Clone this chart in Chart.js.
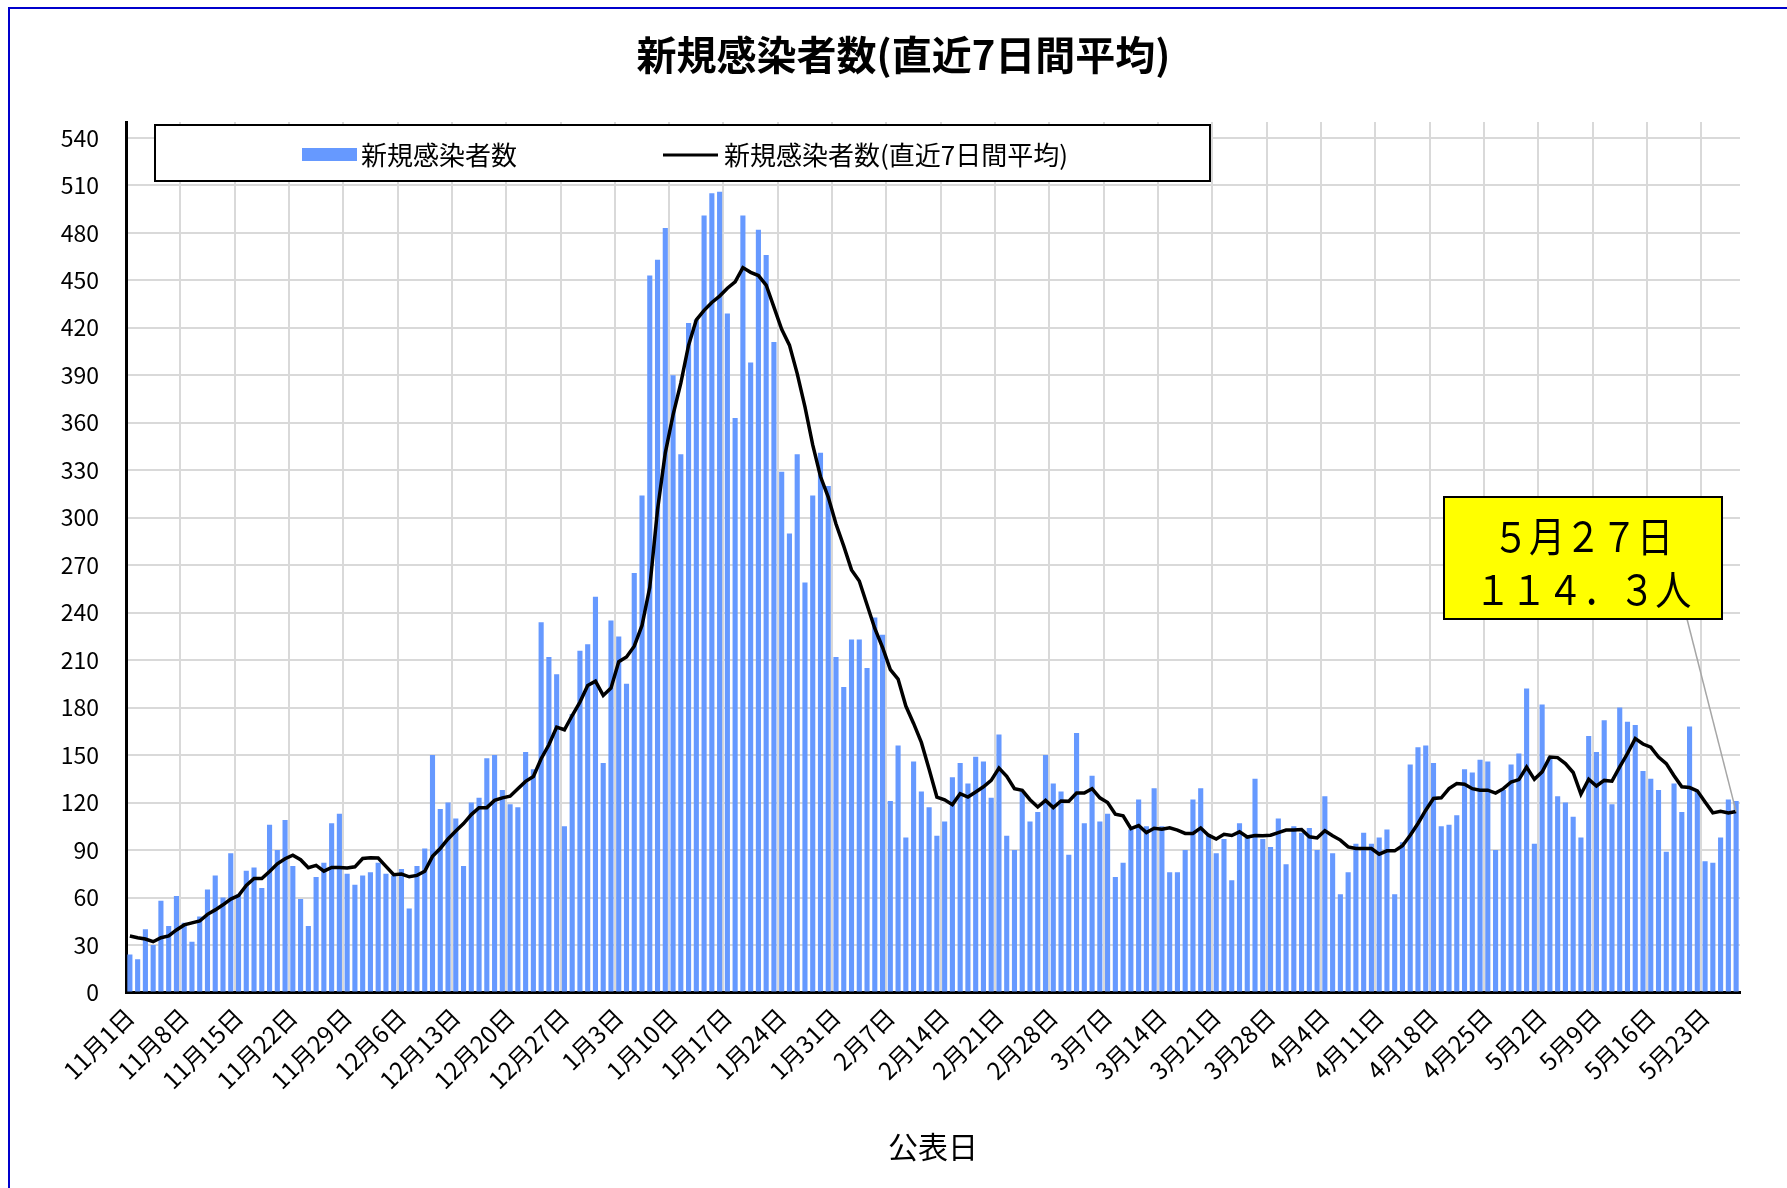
<!DOCTYPE html>
<html lang="ja">
<head>
<meta charset="utf-8">
<title>新規感染者数(直近7日間平均)</title>
<script src="https://cdn.jsdelivr.net/npm/chart.js@4.4.0/dist/chart.umd.min.js"></script>
<style>
  html, body { margin: 0; padding: 0; background: #fff; overflow: hidden; }
  canvas { position: absolute; left: 0; top: 0; }
  #frame {
    position: absolute; left: 8px; top: 7px; width: 1800px; height: 1200px;
    border-left: 2px solid #0000cc; border-top: 2px solid #0000cc;
    pointer-events: none;
  }
</style>
</head>
<body>
<canvas id="chartCases" width="1787" height="1188"></canvas>
<div id="frame"></div>
<script>
// months on the axis and how many days of each are shown
const months = [11, 12, 1, 2, 3, 4, 5];
const monthDays = [30, 31, 31, 28, 31, 30, 27];

// daily new cases (新規感染者数)
const casesNov = [24, 21, 40, 30, 58, 42, 61, 44, 32, 48, 65, 74, 60, 88, 62, 77, 79, 66, 106, 90,
                  109, 80, 59, 42, 73, 82, 107, 113, 75, 68];
const casesDec = [74, 76, 82, 75, 74, 78, 53, 80, 91, 150, 116, 120, 110, 80, 120, 123, 148, 150, 128, 119,
                  117, 152, 141, 234, 212, 201, 105, 176, 216, 220, 250];
const casesJan = [145, 235, 225, 195, 265, 314, 453, 463, 483, 390, 340, 423, 425, 491, 505, 506, 429, 363, 491, 398,
                  482, 466, 411, 329, 290, 340, 259, 314, 341, 320, 212];
const casesFeb = [193, 223, 223, 205, 237, 226, 121, 156, 98, 146, 127, 117, 99, 108, 136, 145, 132, 149, 146, 123,
                  163, 99, 90, 127, 108, 114, 150, 132];
const casesMar = [127, 87, 164, 107, 137, 108, 113, 73, 82, 103, 122, 105, 129, 105, 76, 76, 90, 122, 129, 100,
                  88, 97, 71, 107, 98, 135, 97, 92, 110, 81, 105];
const casesApr = [101, 104, 90, 124, 88, 62, 76, 94, 101, 94, 98, 103, 62, 95, 144, 155, 156, 145, 105, 106,
                  112, 141, 139, 147, 146, 90, 128, 144, 151, 192];
const casesMay = [94, 182, 149, 124, 120, 111, 98, 162, 152, 172, 119, 180, 171, 169, 140, 135, 128, 89, 132, 114,
                  168, 127, 83, 82, 98, 122, 121];

// 7-day average (直近7日間平均)
const avgNov = [35.7, 34.6, 33.8, 32.1, 34.6, 35.7, 39.5, 42.7, 44, 45.2, 49.4, 52.2, 55.4, 59, 61.3, 67.6, 72, 72, 76.5, 81.3,
                84.5, 86.8, 83.9, 78.8, 80.3, 76.7, 79, 79, 78.6, 79.4];
const avgDec = [84.7, 85.1, 85, 79.7, 74.4, 74.8, 73.1, 74, 76.6, 86, 91, 97, 102, 106.7, 112.4, 116.8, 116.8, 121.4, 123, 124,
                128.8, 133.4, 136.5, 147.7, 156.5, 167.7, 166, 175, 183.5, 194, 196.7];
const avgJan = [187.7, 192.3, 209, 212, 218.8, 231.9, 256, 305, 341, 365, 385, 409, 425, 431, 436, 440, 445, 449, 458, 455,
                453, 447, 433, 419, 409, 391, 370, 346, 326, 313, 296];
const avgFeb = [282, 267, 260, 245, 230, 218, 204, 198, 181, 170, 158, 141, 123.5, 121.8, 118.7, 125.6, 123.5, 126.7, 130, 134,
                141.8, 136.6, 128.8, 127.7, 121.8, 117.2, 121.4, 116.8];
const avgMar = [121, 120.8, 126, 126, 128.8, 123, 120, 112.6, 111.6, 103.6, 105.5, 101, 103.8, 103.2, 104, 102.6, 100.5, 100.5, 104, 99.4,
                97, 100, 99.2, 101.5, 98.2, 99.2, 99, 99.4, 101, 102.6, 102.6];
const avgApr = [103, 98.4, 97.7, 102.2, 99, 96.3, 92, 91, 91, 91, 87.4, 89.5, 89.5, 92.7, 99.4, 106.8, 115.2, 122.6, 123, 128.8,
                132, 131.6, 128.8, 127.8, 127.8, 126, 128.8, 133, 134.5, 142.5];
const avgMay = [134.7, 139.4, 148.8, 148.4, 144.6, 139, 125.3, 134.7, 130.5, 134, 133.5, 142.5, 151, 160.4, 157, 155, 148.8, 144.6, 137, 130,
                129.5, 127.4, 120.4, 113.5, 114.5, 113.5, 114.3];

// y axis: top of the axis and the labelled ticks
const yMax = 550;
const yTicks = [0, 30, 60, 90, 120, 150, 180, 210, 240, 270, 300, 330, 360, 390, 420, 450, 480, 510, 540];
// one date label per week
const labelEvery = 7;

const labels = [];
months.forEach((m, k) => {
    for (let d = 1; d <= monthDays[k]; d++) labels.push(m + "月" + d + "日");
});
const cases = [].concat(casesNov, casesDec, casesJan, casesFeb, casesMar, casesApr, casesMay);
const average = [].concat(avgNov, avgDec, avgJan, avgFeb, avgMar, avgApr, avgMay);

const FONT = '"Noto Sans CJK JP", "Noto Sans", sans-serif';
Chart.defaults.font.family = FONT;
Chart.defaults.color = "#000";

// ascii digits -> full width, for the callout
function fullWidth(s) {
    return s.replace(/[0-9.]/g, (c) => String.fromCharCode(c.charCodeAt(0) + 0xFEE0));
}

// legend drawn as a framed box over the top of the plot
const boxLegend = {
    id: "boxLegend",
    afterDraw(chart) {
        const ctx = chart.ctx;
        const ds = chart.data.datasets;
        ctx.save();
        ctx.fillStyle = "#fff";
        ctx.fillRect(155, 125, 1055, 56);
        ctx.lineWidth = 2;
        ctx.strokeStyle = "#000";
        ctx.strokeRect(155, 125, 1055, 56);

        ctx.font = "26px " + FONT;
        ctx.textBaseline = "middle";
        ctx.textAlign = "left";

        ctx.fillStyle = ds[0].backgroundColor;
        ctx.fillRect(302, 148, 55, 13);
        ctx.fillStyle = "#000";
        ctx.fillText(ds[0].label, 361, 155);

        ctx.strokeStyle = ds[1].borderColor;
        ctx.lineWidth = 3;
        ctx.beginPath();
        ctx.moveTo(663, 155);
        ctx.lineTo(718, 155);
        ctx.stroke();
        ctx.fillText(ds[1].label, 724, 155);
        ctx.restore();
    }
};

// yellow callout for the latest 7-day average
const lastCallout = {
    id: "lastCallout",
    afterDraw(chart) {
        const ctx = chart.ctx;
        const last = average.length - 1;
        const px = chart.scales.x.getPixelForValue(last);
        const py = chart.scales.y.getPixelForValue(average[last]);
        ctx.save();
        ctx.strokeStyle = "#a6a6a6";
        ctx.lineWidth = 1.5;
        ctx.beginPath();
        ctx.moveTo(1687, 619);
        ctx.lineTo(px, py);
        ctx.stroke();

        ctx.fillStyle = "#ffff00";
        ctx.fillRect(1444, 497, 278, 122);
        ctx.strokeStyle = "#000";
        ctx.lineWidth = 2;
        ctx.strokeRect(1444, 497, 278, 122);

        // slightly narrowed, taller glyphs like the original
        ctx.fillStyle = "#000";
        ctx.font = "41px " + FONT;
        ctx.textAlign = "center";
        ctx.textBaseline = "middle";
        ctx.translate(1583, 0);
        ctx.scale(0.88, 1);
        ctx.fillText(fullWidth(labels[last]), 0, 536);
        ctx.fillText(fullWidth(average[last].toFixed(1)) + "人", 0, 589);
        ctx.restore();
    }
};

const config = {
    data: {
        labels: labels,
        datasets: [
            {
                type: "bar",
                label: "新規感染者数",
                data: cases,
                backgroundColor: "#6699ff",
                barPercentage: 0.66,
                categoryPercentage: 1.0,
                order: 1,
            },
            {
                type: "line",
                label: "新規感染者数(直近7日間平均)",
                data: average,
                borderColor: "#000",
                borderWidth: 3.5,
                pointRadius: 0,
                tension: 0,
                fill: false,
                order: 0,
            },
        ],
    },
    options: {
        responsive: false,
        animation: false,
        layout: {
            padding: { left: 20, right: 0, top: 8, bottom: 0 },
        },
        plugins: {
            legend: { display: false },
            tooltip: { enabled: false },
            title: {
                display: true,
                text: "新規感染者数(直近7日間平均)",
                color: "#000",
                font: { size: 40, weight: "bold", lineHeight: 1.2 },
                padding: { top: 23, bottom: 43 },
            },
        },
        scales: {
            x: {
                offset: true,
                grid: {
                    offset: true,
                    drawTicks: false,
                    lineWidth: 2,
                    color: (c) => (c.index > 0 && c.index % labelEvery === 0 ? "#d9d9d9" : "rgba(0,0,0,0)"),
                },
                border: { color: "#000", width: 3 },
                ticks: {
                    autoSkip: false,
                    minRotation: 45,
                    maxRotation: 45,
                    padding: 10,
                    font: { size: 24 },
                    callback: (v, i) => (i % labelEvery === 0 ? labels[i] : ""),
                },
                title: {
                    display: true,
                    text: "公表日",
                    font: { size: 30 },
                    padding: { top: 0, bottom: 23 },
                },
                afterFit: (scale) => { scale.height = 195.5; },
            },
            y: {
                min: 0,
                max: yMax,
                grid: { color: "#d9d9d9", lineWidth: 2, drawTicks: false },
                border: { color: "#000", width: 3 },
                ticks: {
                    padding: 27,
                    font: { size: 23 },
                },
                afterBuildTicks: (axis) => {
                    axis.ticks = yTicks.map((v) => ({ value: v }));
                },
                afterFit: (scale) => { scale.width = 106; },
            },
            // empty right-hand margin so the title stays centred on the whole frame
            yRight: {
                position: "right",
                display: true,
                grid: { drawOnChartArea: false, drawTicks: false },
                border: { display: false },
                ticks: { display: false },
                afterFit: (scale) => { scale.width = 47; },
            },
        },
    },
    plugins: [boxLegend, lastCallout],
};

var chartCases = new Chart(document.getElementById("chartCases"), config);
</script>
</body>
</html>
